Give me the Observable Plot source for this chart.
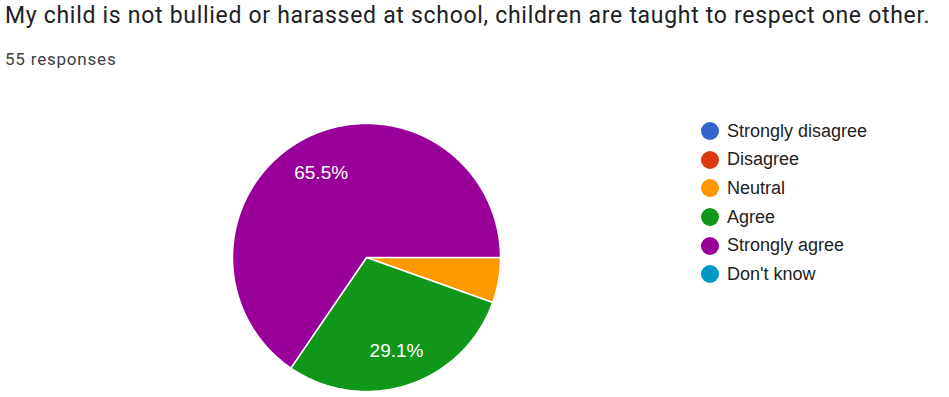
<!DOCTYPE html>
<html>
<head>
<meta charset="utf-8">
<script src="https://cdn.jsdelivr.net/npm/d3@7"></script>
<script src="https://cdn.jsdelivr.net/npm/@observablehq/plot@0.6"></script>
<style>
  html, body { margin: 0; padding: 0; background: #fff; }
  #wrap { position: relative; width: 949px; height: 397px; overflow: hidden; }
  #title { position: absolute; left: 5px; top: 2px; font-family: Roboto, sans-serif; font-size: 23px; letter-spacing: 0.7px; color: #202124; white-space: nowrap; }
  #sub { position: absolute; left: 5px; top: 49px; font-family: Roboto, sans-serif; font-size: 17px; color: #3c4043; white-space: nowrap; letter-spacing: 0.8px; }
  #chart { position: absolute; left: 0; top: 0; }
  #legend { position: absolute; left: 701px; top: 117px; font-family: "Liberation Sans", Arial, sans-serif; font-size: 18px; color: #222; }
  .item { display: flex; align-items: center; height: 28.6px; }
  .sw { width: 18px; height: 18px; border-radius: 50%; margin-right: 8px; }
</style>
</head>
<body>
<div id="wrap">
  <div id="chart"></div>
  <div id="title"></div>
  <div id="sub"></div>
  <div id="legend"></div>
</div>
<script>
const title = "My child is not bullied or harassed at school, children are taught to respect one other.";
const subtitle = "55 responses";
const categories = ["Strongly disagree", "Disagree", "Neutral", "Agree", "Strongly agree", "Don't know"];
const counts = [0, 0, 3, 16, 36, 0];
const colors = ["#3366cc", "#dc3912", "#ff9900", "#109618", "#990099", "#0099c6"];

document.getElementById("title").textContent = title;
document.getElementById("sub").textContent = subtitle;

const total = d3.sum(counts);
const data = categories.map((c, i) => ({category: c, value: counts[i]}));

// pie starting at 3 o'clock, clockwise
const pie = d3.pie().value(d => d.value).sort(null)
  .startAngle(Math.PI / 2).endAngle(Math.PI / 2 + 2 * Math.PI);
const arcs = pie(data).filter(a => a.data.value > 0);

const pts = [];
for (const a of arcs) {
  const n = Math.max(2, Math.ceil((a.endAngle - a.startAngle) / (Math.PI / 360)));
  pts.push({category: a.data.category, x: 0, y: 0});
  for (let k = 0; k <= n; k++) {
    const t = a.startAngle + (a.endAngle - a.startAngle) * k / n;
    pts.push({category: a.data.category, x: Math.sin(t), y: -Math.cos(t)});
  }
}
const labelR = 0.725;
const labels = arcs.filter(a => a.data.value / total >= 0.1).map(a => {
  const m = (a.startAngle + a.endAngle) / 2;
  return {x: labelR * Math.sin(m), y: -labelR * Math.cos(m), text: (100 * a.data.value / total).toFixed(1) + "%"};
});

const cx = 366, cy = 257, r = 134;
const plot = Plot.plot({
  width: 949, height: 397,
  margin: 0,
  x: {domain: [-1, 1], range: [cx - r, cx + r], axis: null},
  y: {domain: [-1, 1], range: [cy - r, cy + r], axis: null},
  color: {domain: categories, range: colors},
  style: {background: "transparent", overflow: "visible"},
  marks: [
    Plot.line(pts, {x: "x", y: "y", z: "category", fill: "category", stroke: "white", strokeWidth: 1.5, curve: "linear-closed", strokeLinejoin: "round"}),
    Plot.text(labels, {x: "x", y: "y", text: "text", fill: "white", fontSize: 19, dy: 1.5, fontFamily: "Liberation Sans, Arial, sans-serif"})
  ]
});
document.getElementById("chart").appendChild(plot);

const lg = d3.select("#legend");
categories.forEach((c, i) => {
  const it = lg.append("div").attr("class", "item");
  it.append("div").attr("class", "sw").style("background", colors[i]);
  it.append("span").text(c);
});
</script>
</body>
</html>
